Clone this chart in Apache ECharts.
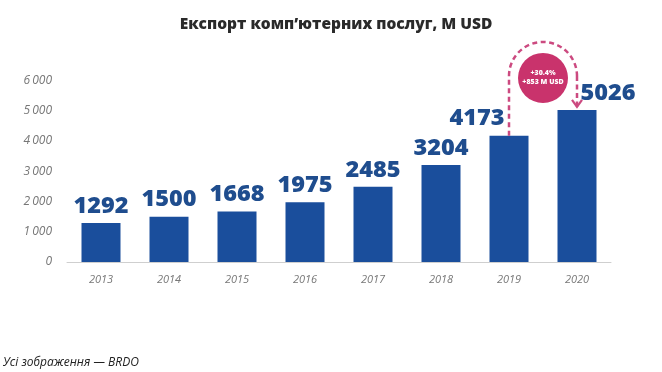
<!DOCTYPE html>
<html>
<head>
<meta charset="utf-8">
<script src="https://cdn.jsdelivr.net/npm/echarts@6/dist/echarts.min.js"></script>
<style>
html,body{margin:0;padding:0;background:#fff;}
#c{width:662px;height:372px;}
</style>
</head>
<body>
<div id="c"></div>
<script>
const categories = ['2013','2014','2015','2016','2017','2018','2019','2020'];
const exportValues = [1292, 1500, 1668, 1975, 2485, 3204, 4173, 5026];
const yTicks = [0, 1000, 2000, 3000, 4000, 5000, 6000];
const growthText = ['+30.4%', '+853 M USD'];
const titleText = 'Експорт комп’ютерних послуг, M USD';
const captionText = 'Усі зображення — BRDO';

const chart = echarts.init(document.getElementById('c'));
const barColor = '#1a4e9c';
const labelColor = '#1f4d8e';

const data = exportValues.map((v, i) => {
  const item = { value: v };
  if (i === 6) item.label = { offset: [-32, 0] };
  if (i === 7) item.label = { offset: [31, 0] };
  return item;
});

const caption = {
  type: 'text', left: 3, top: 357,
  style: { text: captionText, fontFamily: 'Open Sans', fontStyle: 'italic', fontSize: 12, fill: '#222' }
};

chart.setOption({
  animation: false,
  title: {
    text: titleText,
    left: 331, top: 12, textAlign: 'center',
    textStyle: { fontFamily: 'Open Sans', fontWeight: 800, fontSize: 15.5, color: '#2a2a2a' }
  },
  grid: { left: 67, right: 51, top: 80.5, bottom: 110 },
  xAxis: {
    type: 'category', data: categories,
    axisTick: { show: false },
    axisLine: { lineStyle: { color: '#cfcfcf', width: 1 } },
    axisLabel: { fontFamily: 'Open Sans', fontStyle: 'italic', fontSize: 11, color: '#777', margin: 12 }
  },
  yAxis: {
    type: 'value', min: yTicks[0], max: yTicks[yTicks.length - 1], interval: 1000,
    splitLine: { show: false },
    axisLine: { show: false }, axisTick: { show: false },
    axisLabel: {
      fontFamily: 'Open Sans', fontStyle: 'italic', fontSize: 12, color: '#777', margin: 15,
      formatter: v => v >= 1000 ? String(v).replace(/(\d)(\d{3})$/, '$1\u2009$2') : String(v)
    }
  },
  series: [{
    type: 'bar', data: data, barWidth: 39,
    itemStyle: { color: barColor },
    label: {
      show: true, position: 'top', distance: 5,
      fontFamily: 'Open Sans', fontWeight: 800, fontSize: 23.5, color: labelColor
    }
  }],
  graphic: [caption]
});

// Annotation placed from the chart's own scales
const p19 = chart.convertToPixel({ seriesIndex: 0 }, ['2019', exportValues[6]]);
const p20 = chart.convertToPixel({ seriesIndex: 0 }, ['2020', exportValues[7]]);
const cy = chart.convertToPixel({ yAxisIndex: 0 }, 6150);
const cx = (p19[0] + p20[0]) / 2;
const r = (p20[0] - p19[0]) / 2;
const pink = '#c9336c';
const dash = { stroke: '#cc4a80', lineWidth: 2.5, lineDash: [5, 3.5], fill: null };
chart.setOption({
  graphic: [caption,
  { type: 'polyline', shape: { points: [[p19[0], p19[1]], [p19[0], cy]] }, style: dash, z: 10 },
  { type: 'arc', shape: { cx: cx, cy: cy, r: r, startAngle: Math.PI, endAngle: 2 * Math.PI, clockwise: true }, style: dash, z: 10 },
  { type: 'polyline', shape: { points: [[p20[0], cy], [p20[0], p20[1] - 3]] }, style: dash, z: 10 },
  { type: 'polyline', shape: { points: [[p20[0] - 5, p20[1] - 10], [p20[0], p20[1] - 3], [p20[0] + 5, p20[1] - 10]] },
    style: { stroke: '#cc4a80', lineWidth: 2.2, fill: null }, z: 10 },
  { type: 'circle', shape: { cx: cx, cy: cy + 2, r: 25 }, style: { fill: pink }, z: 11 },
  { type: 'text', x: cx, y: cy + 2, z: 12,
    style: { text: growthText.join('\n'), align: 'center', verticalAlign: 'middle',
      fontFamily: 'Open Sans', fontWeight: 800, fontSize: 7, lineHeight: 9, fill: '#fff' } }
  ]
}, { replaceMerge: ['graphic'] });
</script>
</body>
</html>
